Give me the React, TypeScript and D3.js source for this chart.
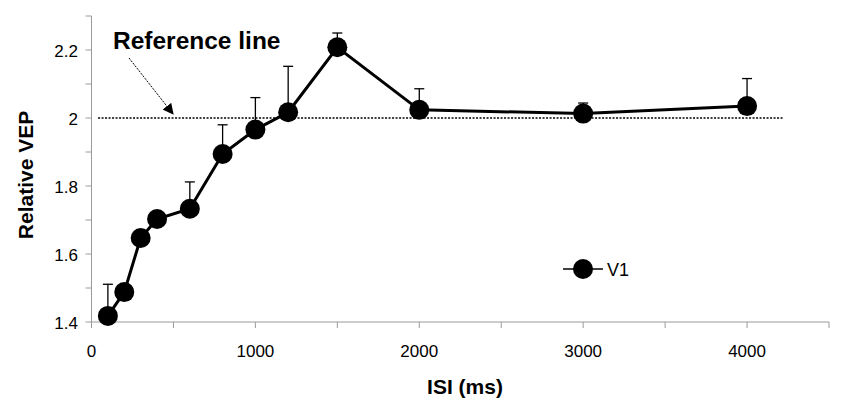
import React from "react";
import * as d3 from "d3";

const isi = [100, 200, 300, 400, 600, 800, 1000, 1200, 1500, 2000, 3000, 4000];
const vep = [1.418, 1.488, 1.647, 1.703, 1.733, 1.894, 1.966, 2.017, 2.208, 2.024, 2.013, 2.035];
const errTop = [1.511, null, null, null, 1.812, 1.98, 2.06, 2.152, 2.25, 2.086, 2.044, 2.116];
const xTickLabels = [0, 1000, 2000, 3000, 4000];
const yTickLabels = [1.4, 1.6, 1.8, 2.0, 2.2];
const refValue = 2.0;
const refRange = [40, 4220];

export default function App() {
  const W = 845, H = 405;
  const x = d3.scaleLinear().domain([0, 4500]).range([91.5, 829]);
  const y = d3.scaleLinear().domain([1.4, 2.3]).range([322, 16]);
  const xMinor = d3.range(0, 4501, 500);
  const yMinor = d3.range(14, 24).map((v) => v / 10);
  const line = d3.line<number>().x((_, i) => x(isi[i])).y((d) => y(d));
  const font = "Liberation Sans, Arial, sans-serif";
  const axisColor = "#9a9a9a";
  return (
    <svg width={W} height={H} style={{ position: "absolute", left: 0, top: 0 }} fontFamily={font}>
      <defs>
        <marker id="ah" viewBox="0 0 10 10" refX="9" refY="5" markerWidth="11" markerHeight="11" markerUnits="userSpaceOnUse" orient="auto">
          <path d="M0,0 L10,5 L0,10 z" fill="#000" />
        </marker>
      </defs>
      {/* axes */}
      <line x1={x(0)} x2={x(0)} y1={y(2.3)} y2={y(1.4)} stroke={axisColor} strokeWidth={1} />
      <line x1={x(0)} x2={x(4500)} y1={y(1.4)} y2={y(1.4)} stroke={axisColor} strokeWidth={1} />
      {yMinor.map((v) => (
        <line key={"yt" + v} x1={x(0) - 6} x2={x(0)} y1={y(v)} y2={y(v)} stroke={axisColor} />
      ))}
      {xMinor.map((v) => (
        <line key={"xt" + v} x1={x(v)} x2={x(v)} y1={y(1.4)} y2={y(1.4) + 6} stroke={axisColor} />
      ))}
      {yTickLabels.map((v) => (
        <text key={"yl" + v} x={78} y={y(v) + 6.5} textAnchor="end" fontSize={17}>
          {v === 2 ? "2" : v.toFixed(1)}
        </text>
      ))}
      {xTickLabels.map((v) => (
        <text key={"xl" + v} x={x(v)} y={357} textAnchor="middle" fontSize={17}>
          {v}
        </text>
      ))}
      <text x={465} y={394} textAnchor="middle" fontSize={21} fontWeight="bold">ISI (ms)</text>
      <text transform={`translate(33,175) rotate(-90)`} textAnchor="middle" fontSize={21} fontWeight="bold">Relative VEP</text>
      {/* reference line */}
      <line x1={x(refRange[0])} x2={x(refRange[1])} y1={y(refValue)} y2={y(refValue)} stroke="#000" strokeWidth={1.6} strokeDasharray="2,1.5" />
      <text x={113} y={49} fontSize={24.5} fontWeight="bold">Reference line</text>
      <line x1={129} y1={58} x2={173} y2={114} stroke="#000" strokeWidth={1} strokeDasharray="2,1.2" markerEnd="url(#ah)" />
      {/* error bars */}
      {errTop.map((e, i) =>
        e == null ? null : (
          <g key={"eb" + i} stroke="#000" strokeWidth={1.3}>
            <line x1={x(isi[i])} x2={x(isi[i])} y1={y(vep[i])} y2={y(e)} />
            <line x1={x(isi[i]) - 5} x2={x(isi[i]) + 5} y1={y(e)} y2={y(e)} />
          </g>
        )
      )}
      <path d={line(vep) || ""} fill="none" stroke="#000" strokeWidth={3} />
      {vep.map((v, i) => (
        <circle key={"pt" + i} cx={x(isi[i])} cy={y(v)} r={10} fill="#000" />
      ))}
      {/* legend */}
      <line x1={563} x2={603} y1={269} y2={269} stroke="#000" strokeWidth={1.5} />
      <circle cx={583} cy={269} r={10} fill="#000" />
      <text x={607} y={276} fontSize={18}>V1</text>
    </svg>
  );
}
